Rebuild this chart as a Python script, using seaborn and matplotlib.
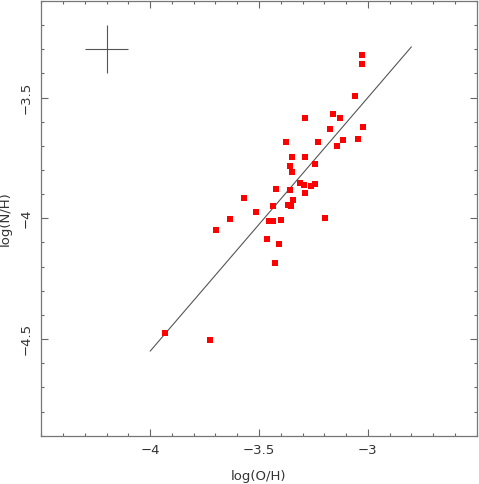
import matplotlib
matplotlib.use("Agg")
import matplotlib.pyplot as plt
from matplotlib.ticker import MultipleLocator
import seaborn as sns
import pandas as pd

# abundances
log_oh = [-3.028, -3.026, -3.060, -3.290, -3.158, -3.126, -3.173, -3.024,
          -3.376, -3.228, -3.116, -3.046, -3.143, -3.350, -3.290, -3.356,
          -3.242, -3.350, -3.311, -3.291, -3.260, -3.242, -3.290, -3.420,
          -3.359, -3.571, -3.343, -3.434, -3.365, -3.353, -3.515, -3.455,
          -3.435, -3.400, -3.199, -3.633, -3.698, -3.465, -3.410, -3.426,
          -3.932, -3.727]
log_nh = [-3.324, -3.360, -3.492, -3.583, -3.570, -3.586, -3.631, -3.623,
          -3.685, -3.685, -3.676, -3.671, -3.701, -3.747, -3.747, -3.783,
          -3.774, -3.807, -3.855, -3.862, -3.867, -3.858, -3.897, -3.878,
          -3.882, -3.915, -3.923, -3.947, -3.945, -3.949, -3.974, -4.009,
          -4.009, -4.005, -4.000, -4.003, -4.050, -4.087, -4.108, -4.183,
          -4.474, -4.503]

# linear fit
fit_x = [-4.0, -2.8]
fit_y = [-4.55, -3.29]

# typical error bar
err_x, err_y = -4.2, -3.3
err_size = 0.1

df = pd.DataFrame({"log(O/H)": log_oh, "log(N/H)": log_nh})
fit = pd.DataFrame({"x": fit_x, "y": fit_y})

sns.set_style("ticks")
plt.rcParams["font.family"] = ["DejaVu Sans"]

fig = plt.figure(figsize=(4.79, 4.84), dpi=100)
ax = fig.add_axes([0.0862, 0.0998, 0.9090, 0.8982])

sns.lineplot(data=fit, x="x", y="y", color="#555555", linewidth=0.8, ax=ax)
sns.scatterplot(data=df, x="log(O/H)", y="log(N/H)", marker="s", s=13,
                color="red", linewidth=0, ax=ax, zorder=3)
ax.errorbar([err_x], [err_y], xerr=err_size, yerr=err_size, fmt="none",
            ecolor="#555555", elinewidth=0.8, capsize=0)

ax.set_xlim(-4.5, -2.5)
ax.set_ylim(-4.9, -3.1)
ax.xaxis.set_minor_locator(MultipleLocator(0.1))
ax.yaxis.set_minor_locator(MultipleLocator(0.1))
ax.set_xticks([-4, -3.5, -3])
ax.set_xticklabels(["\u22124", "\u22123.5", "\u22123"])
ax.set_yticks([-4.5, -4, -3.5])
ax.set_yticklabels(["\u22124.5", "\u22124", "\u22123.5"], rotation=90, va="center")

ax.tick_params(which="both", direction="in", top=True, right=True,
               colors="#666666", labelcolor="#333333", labelsize=9.5)
ax.tick_params(which="major", length=5, width=0.8, pad=6)
ax.tick_params(which="minor", length=2.5, width=0.8)
for sp in ax.spines.values():
    sp.set_color("#777777")
    sp.set_linewidth(0.9)

ax.set_xlabel("log(O/H)", fontsize=9.5, color="#333333", labelpad=9)
ax.set_ylabel("log(N/H)", fontsize=9.5, color="#333333", labelpad=6)

fig.savefig("out.png", dpi=100)
